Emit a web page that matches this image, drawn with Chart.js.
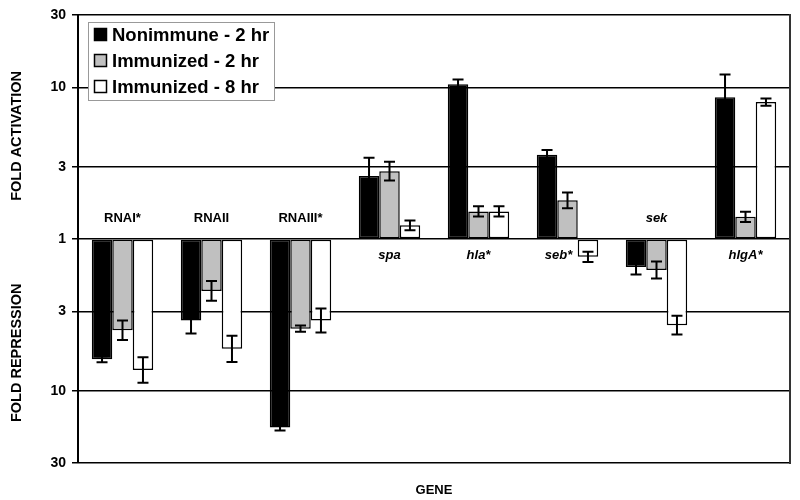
<!DOCTYPE html>
<html>
<head>
<meta charset="utf-8">
<script src="https://cdn.jsdelivr.net/npm/chart.js@4.4.0/dist/chart.umd.min.js"></script>
<style>
  html, body { margin: 0; padding: 0; background: #fff; }
</style>
</head>
<body>
<canvas id="chart" width="800" height="500"></canvas>
<script>
const genes = ["RNAI*", "RNAII", "RNAIII*", "spa", "hla*", "seb*", "sek", "hlgA*"];
// fold change, negative numbers = fold repression
const nonimmune2h = [-6.2, -3.45, -17.5, 2.6, 10.5, 3.6, -1.53, 8.6];
const immunized2h = [-4.0, -2.2, -3.9, 2.8, 1.52, 1.8, -1.6, 1.4];
const immunized8h = [-7.3, -5.3, -3.45, 1.23, 1.52, -1.31, -3.7, 8.0];
// error bar half length, in log10 units
const nonimmune2hErr = [0.02, 0.085, 0.02, 0.12, 0.03, 0.03, 0.05, 0.15];
const immunized2hErr = [0.064, 0.065, 0.02, 0.062, 0.034, 0.052, 0.056, 0.034];
const immunized8hErr = [0.084, 0.087, 0.079, 0.032, 0.034, 0.034, 0.062, 0.024];
const yTicks = [-30, -10, -3, 1, 3, 10, 30];

const toLog = v => Math.sign(v) * Math.log10(Math.abs(v));
const FONT = "Arial, 'Liberation Sans', sans-serif";

const extras = {
  id: "extras",
  afterDatasetsDraw(chart) {
    const { ctx, chartArea: a, scales: { x, y } } = chart;
    ctx.save();

    // error bars
    ctx.strokeStyle = "#000";
    ctx.lineWidth = 2;
    chart.data.datasets.forEach((ds, di) => {
      chart.getDatasetMeta(di).data.forEach((bar, i) => {
        const v = ds.data[i], e = ds.err[i];
        const y1 = y.getPixelForValue(v + e);
        const y2 = y.getPixelForValue(v - e);
        ctx.beginPath();
        ctx.moveTo(bar.x, y1); ctx.lineTo(bar.x, y2);
        ctx.moveTo(bar.x - 5.5, y1); ctx.lineTo(bar.x + 5.5, y1);
        ctx.moveTo(bar.x - 5.5, y2); ctx.lineTo(bar.x + 5.5, y2);
        ctx.stroke();
      });
    });

    // right border
    ctx.strokeStyle = "#333";
    ctx.beginPath();
    ctx.moveTo(a.right, a.top - 1);
    ctx.lineTo(a.right, a.bottom + 1);
    ctx.stroke();

    // gene labels next to the baseline, on the side away from the first bar
    const base = y.getPixelForValue(0);
    ctx.fillStyle = "#000";
    ctx.textAlign = "center";
    ctx.textBaseline = "middle";
    genes.forEach((g, i) => {
      ctx.font = (g.startsWith("RNA") ? "bold " : "italic bold ") + "13px " + FONT;
      const above = nonimmune2h[i] < 0;
      // last bar pokes into the label side -> move label left of it
      const clash = (immunized8h[i] < 0) !== (nonimmune2h[i] < 0);
      ctx.fillText(g, x.getPixelForValue(i) - (clash ? 9 : 0), above ? base - 21 : base + 16);
    });

    // legend box
    const lx = 88, ly = 22;
    ctx.fillStyle = "#fff";
    ctx.fillRect(lx, ly, 186, 78);
    ctx.strokeStyle = "#999";
    ctx.lineWidth = 1;
    ctx.strokeRect(lx + 0.5, ly + 0.5, 186, 78);
    ctx.font = "bold 18.5px " + FONT;
    ctx.textAlign = "left";
    chart.data.datasets.forEach((ds, di) => {
      const cy = ly + 13 + di * 26;
      ctx.fillStyle = ds.backgroundColor;
      ctx.fillRect(lx + 6.5, cy - 6.5, 12, 12);
      ctx.strokeStyle = "#000";
      ctx.lineWidth = 1.5;
      ctx.strokeRect(lx + 6.5, cy - 6.5, 12, 12);
      ctx.fillStyle = "#000";
      ctx.fillText(ds.label, lx + 24, cy + 1);
    });

    // axis titles
    ctx.font = "bold 13px " + FONT;
    ctx.textAlign = "center";
    ctx.fillText("GENE", (a.left + a.right) / 2, 490);
    ctx.font = "bold 14.5px " + FONT;
    [["FOLD ACTIVATION", 0.68], ["FOLD REPRESSION", -0.75]].forEach(([t, v]) => {
      ctx.save();
      ctx.translate(17, y.getPixelForValue(v));
      ctx.rotate(-Math.PI / 2);
      ctx.fillText(t, 0, 0);
      ctx.restore();
    });
    ctx.restore();
  }
};

new Chart(document.getElementById("chart"), {
  type: "bar",
  data: {
    labels: genes,
    datasets: [
      { label: "Nonimmune - 2 hr", data: nonimmune2h.map(toLog), err: nonimmune2hErr, backgroundColor: "#000000" },
      { label: "Immunized - 2 hr", data: immunized2h.map(toLog), err: immunized2hErr, backgroundColor: "#c0c0c0" },
      { label: "Immunized - 8 hr", data: immunized8h.map(toLog), err: immunized8hErr, backgroundColor: "#ffffff" }
    ].map(d => Object.assign(d, {
      borderColor: "#000",
      borderWidth: 1.5,
      borderSkipped: false,
      categoryPercentage: 0.69,
      barPercentage: 1.0
    }))
  },
  options: {
    responsive: false,
    animation: false,
    devicePixelRatio: 1,
    layout: { padding: { top: 15, bottom: 37, right: 10, left: 0 } },
    plugins: { legend: { display: false }, tooltip: { enabled: false } },
    scales: {
      x: { display: false },
      y: {
        min: toLog(yTicks[0]),
        max: toLog(yTicks[yTicks.length - 1]),
        afterBuildTicks: s => { s.ticks = yTicks.map(t => ({ value: toLog(t) })); },
        afterFit: s => { s.width = 78; },
        ticks: {
          color: "#000",
          padding: 6,
          font: { family: FONT, size: 14, weight: "bold" },
          callback: (v, i) => String(Math.abs(yTicks[i]))
        },
        grid: { color: "#000", lineWidth: 1.5, tickLength: 6 },
        border: { color: "#000", width: 2 }
      }
    }
  },
  plugins: [extras]
});
</script>
</body>
</html>
